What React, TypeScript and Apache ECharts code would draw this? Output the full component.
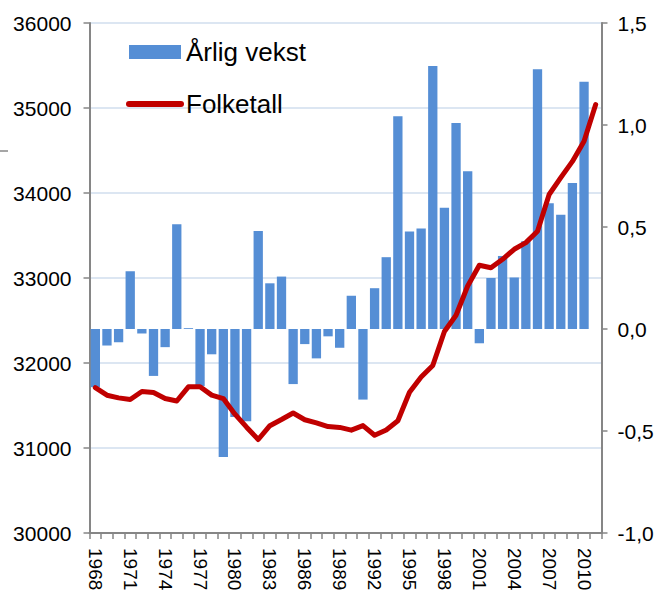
import React, { useEffect, useRef } from "react";
import * as echarts from "echarts";

const years = [
  "1968", "1969", "1970", "1971", "1972", "1973", "1974", "1975", "1976", "1977",
  "1978", "1979", "1980", "1981", "1982", "1983", "1984", "1985", "1986", "1987",
  "1988", "1989", "1990", "1991", "1992", "1993", "1994", "1995", "1996", "1997",
  "1998", "1999", "2000", "2001", "2002", "2003", "2004", "2005", "2006", "2007",
  "2008", "2009", "2010", "2011",
];

// Årlig vekst (%), right axis
const growth = [
  -0.285, -0.081, -0.065, 0.283, -0.022, -0.23, -0.089, 0.513, 0.004, -0.28,
  -0.124, -0.628, -0.431, -0.452, 0.48, 0.224, 0.257, -0.27, -0.074, -0.144,
  -0.036, -0.092, 0.163, -0.346, 0.2, 0.352, 1.043, 0.478, 0.493, 1.289,
  0.594, 1.01, 0.773, -0.07, 0.25, 0.358, 0.253, 0.43, 1.273, 0.616,
  0.56, 0.716, 1.212, null,
];

// Folketall, left axis
const population = [
  31710, 31621, 31590, 31570, 31665, 31652, 31582, 31553, 31720, 31720,
  31622, 31582, 31398, 31245, 31100, 31262, 31335, 31412, 31332, 31296,
  31252, 31242, 31210, 31263, 31150, 31212, 31320, 31656, 31835, 31970,
  32370, 32562, 32906, 33150, 33120, 33220, 33338, 33416, 33550, 33982,
  34181, 34372, 34610, 35040,
];

const FONT = "'Liberation Sans', Arial, sans-serif";
const AXIS_COLOR = "#868686";

export default function App() {
  const ref = useRef<HTMLDivElement>(null);
  useEffect(() => {
    if (!ref.current) return;
    const chart = echarts.init(ref.current, undefined, { renderer: "svg" });
    chart.setOption({
      animation: false,
      textStyle: { fontFamily: FONT },
      grid: {
        left: 89.5,
        right: 56.5,
        top: 23,
        bottom: 59,
        containLabel: false,
        outerBoundsMode: "none",
      },
      legend: {
        orient: "vertical",
        left: 126,
        top: 39,
        padding: 0,
        itemWidth: 52,
        itemHeight: 14,
        itemGap: 26,
        textStyle: { fontSize: 26, color: "#000", fontFamily: FONT },
        data: [
          { name: "Årlig vekst", icon: "rect" },
          {
            name: "Folketall",
            lineStyle: { width: 6, cap: "round" },
            itemStyle: { opacity: 0 },
          },
        ],
      },
      graphic: [
        {
          type: "line",
          shape: { x1: 0, y1: 151, x2: 8, y2: 151 },
          style: { stroke: "#A6A6A6", lineWidth: 2 },
        },
      ],
      xAxis: {
        type: "category",
        data: years,
        boundaryGap: true,
        axisLine: { onZero: false, lineStyle: { color: AXIS_COLOR, width: 2 } },
        axisTick: { show: true, interval: 0, length: 6, lineStyle: { color: AXIS_COLOR, width: 1.5 } },
        axisLabel: {
          interval: 2,
          rotate: -90,
          fontSize: 19,
          color: "#000",
          fontFamily: FONT,
          margin: 15,
        },
        splitLine: { show: false },
      },
      yAxis: [
        {
          type: "value",
          min: 30000,
          max: 36000,
          interval: 1000,
          axisLine: { show: true, lineStyle: { color: AXIS_COLOR, width: 2 } },
          axisTick: { show: true, length: 6, lineStyle: { color: AXIS_COLOR, width: 1.5 } },
          axisLabel: {
            fontSize: 21,
            color: "#000",
            fontFamily: FONT,
            margin: 18,
            formatter: (v: number) => String(v),
          },
          splitLine: { show: true, lineStyle: { color: "#DCE6F2", width: 2 } },
        },
        {
          type: "value",
          min: -1,
          max: 1.5,
          interval: 0.5,
          position: "right",
          axisLine: { show: true, lineStyle: { color: AXIS_COLOR, width: 2 } },
          axisTick: { show: true, length: 6, lineStyle: { color: AXIS_COLOR, width: 1.5 } },
          axisLabel: {
            fontSize: 21,
            color: "#000",
            fontFamily: FONT,
            margin: 16,
            formatter: (v: number) => v.toFixed(1).replace(".", ","),
          },
          splitLine: { show: false },
        },
      ],
      series: [
        {
          name: "Årlig vekst",
          type: "bar",
          yAxisIndex: 1,
          data: growth,
          barCategoryGap: "20%",
          itemStyle: { color: "#558ED5" },
          z: 2,
        },
        {
          name: "Folketall",
          type: "line",
          yAxisIndex: 0,
          data: population,
          symbol: "none",
          lineStyle: { color: "#C00000", width: 5, cap: "round", join: "round" },
          itemStyle: { color: "#C00000" },
          z: 3,
        },
      ],
    });
    return () => chart.dispose();
  }, []);
  return (
    <div
      ref={ref}
      style={{ position: "fixed", left: 0, top: 0, width: 658, height: 592, background: "#fff" }}
    />
  );
}
